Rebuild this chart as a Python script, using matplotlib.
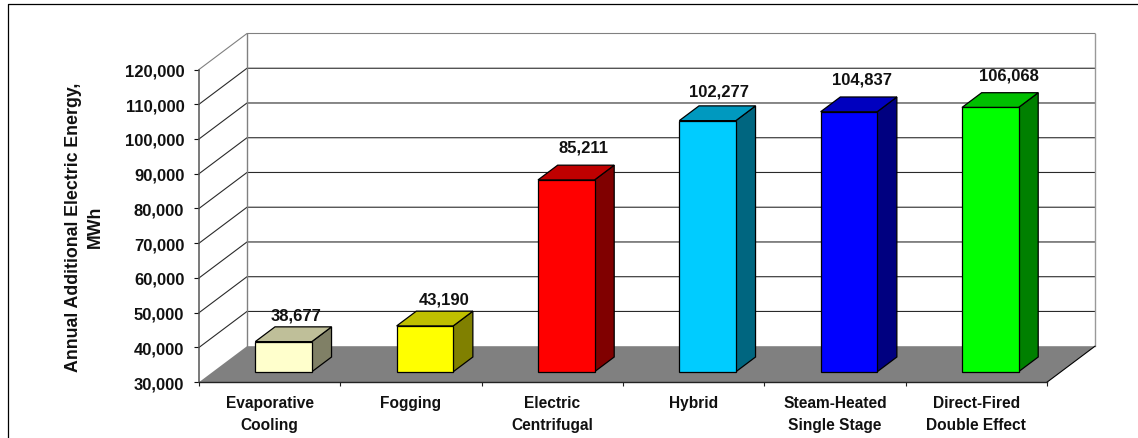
"""Annual additional electric energy by inlet cooling technology, drawn as a
pseudo-3D column chart with a back wall, side wall and floor."""

import matplotlib
matplotlib.use("Agg")
import matplotlib.pyplot as plt
from matplotlib.colors import to_rgb
from matplotlib.lines import Line2D
from matplotlib.patches import Polygon
from matplotlib.ticker import FuncFormatter

CATEGORIES = [
    "Evaporative\nCooling",
    "Fogging",
    "Electric\nCentrifugal",
    "Hybrid",
    "Steam-Heated\nSingle Stage",
    "Direct-Fired\nDouble Effect",
]
ENERGY_MWH = [38677, 43190, 85211, 102277, 104837, 106068]
BAR_COLORS = ["#FFFFCC", "#FFFF00", "#FF0000", "#00CCFF", "#0000FF", "#00FF00"]

Y_MIN, Y_MAX, Y_STEP = 30000, 120000, 10000

# value label nudges from the middle of each bar's rear top edge, in pixels
LABEL_DX = [-7, 0, -2, -8, -7, -1]
LABEL_DY = [12, 12, 18, 15, 18, 18]

W, H = 1138, 439
AX_LEFT, AX_RIGHT, AX_TOP, AX_BOTTOM = 199, 1047, 70.5, 383.2

# oblique projection: full depth moves 48 px right and 36 px up
PX_X = (AX_RIGHT - AX_LEFT) / len(CATEGORIES)
PX_Y = (AX_BOTTOM - AX_TOP) / (Y_MAX - Y_MIN)
DEPTH_X = 48 / PX_X
DEPTH_Y = 36 / PX_Y

BAR_WIDTH = 0.40
BAR_DEPTH_FRONT = 0.29
BAR_DEPTH_BACK = 0.70

plt.rcParams["font.family"] = ["Liberation Sans", "DejaVu Sans"]
plt.rcParams["font.weight"] = "bold"


def project(x, value, depth):
    return (x + depth * DEPTH_X, value + depth * DEPTH_Y)


def shade(color, factor):
    return tuple(c * factor for c in to_rgb(color))


def add_face(ax, corners, color, edge="black", lw=0.9, z=3):
    ax.add_patch(Polygon(corners, closed=True, facecolor=color, edgecolor=edge,
                         linewidth=lw, joinstyle="miter", clip_on=False, zorder=z))


def draw_walls(ax, n):
    for v in range(Y_MIN, Y_MAX + 1, Y_STEP):
        if v == Y_MIN:
            continue
        c = "#808080" if v == Y_MAX else "#2a2a2a"
        xs, ys = zip(project(0, v, 0), project(0, v, 1), project(n, v, 1))
        ax.plot(xs, ys, color=c, lw=0.8, clip_on=False, zorder=1)

    # wall outline, grey on the back corners
    xs, ys = zip(project(0, Y_MIN, 1), project(0, Y_MAX, 1))
    ax.plot(xs, ys, color="#808080", lw=1.0, clip_on=False, zorder=1.5)
    xs, ys = zip(project(n, Y_MIN, 1), project(n, Y_MAX, 1))
    ax.plot(xs, ys, color="#999999", lw=1.0, clip_on=False, zorder=1.5)

    floor = [project(0, Y_MIN, 0), project(n, Y_MIN, 0),
             project(n, Y_MIN, 1), project(0, Y_MIN, 1)]
    ax.add_patch(Polygon(floor, closed=True, facecolor="#808080", edgecolor="none",
                         clip_on=False, zorder=2))
    xs, ys = zip(project(n, Y_MIN, 0), project(n, Y_MIN, 1))
    ax.plot(xs, ys, color="black", lw=0.8, clip_on=False, zorder=2.1)


def draw_bar(ax, center, value, color):
    x0, x1 = center - BAR_WIDTH / 2, center + BAR_WIDTH / 2
    d0, d1 = BAR_DEPTH_FRONT, BAR_DEPTH_BACK
    front = [project(x0, Y_MIN, d0), project(x1, Y_MIN, d0),
             project(x1, value, d0), project(x0, value, d0)]
    side = [project(x1, Y_MIN, d0), project(x1, Y_MIN, d1),
            project(x1, value, d1), project(x1, value, d0)]
    top = [project(x0, value, d0), project(x1, value, d0),
           project(x1, value, d1), project(x0, value, d1)]
    add_face(ax, side, shade(color, 0.5))
    add_face(ax, top, shade(color, 0.75))
    add_face(ax, front, color, z=3.1)


def main():
    fig = plt.figure(figsize=(W / 100, H / 100), dpi=100, facecolor="white")
    ax = fig.add_axes([AX_LEFT / W, 1 - AX_BOTTOM / H,
                       (AX_RIGHT - AX_LEFT) / W, (AX_BOTTOM - AX_TOP) / H])
    ax.patch.set_visible(False)

    n = len(CATEGORIES)
    ax.set_xlim(0, n)
    ax.set_ylim(Y_MIN, Y_MAX)

    draw_walls(ax, n)

    for i, (value, color) in enumerate(zip(ENERGY_MWH, BAR_COLORS)):
        center = i + 0.5
        draw_bar(ax, center, value, color)
        lx, ly = project(center, value, BAR_DEPTH_BACK)
        ax.annotate(f"{value:,}", (lx, ly), xytext=(LABEL_DX[i], LABEL_DY[i]),
                    textcoords="offset pixels", ha="center", va="center",
                    fontsize=12, fontweight="bold", color="#111111",
                    annotation_clip=False, zorder=5)

    ax.set_yticks(range(Y_MIN, Y_MAX + 1, Y_STEP))
    ax.yaxis.set_major_formatter(FuncFormatter(lambda v, _: f"{int(v):,}"))
    ax.tick_params(axis="y", length=3.6, width=0.8, pad=7, labelsize=12,
                   colors="#111111")
    ax.set_xticks(range(n + 1))
    ax.set_xticklabels([])
    ax.tick_params(axis="x", which="major", length=3.2, width=0.8, color="#222222")
    ax.set_xticks([i + 0.5 for i in range(n)], minor=True)
    ax.set_xticklabels(CATEGORIES, minor=True, fontsize=11.2, fontweight="bold",
                       color="#111111", linespacing=1.6)
    ax.tick_params(axis="x", which="minor", length=0, pad=9)

    ax.set_ylabel("Annual Additional Electric Energy,\nMWh", fontsize=12.8,
                  fontweight="bold", color="#111111", labelpad=15, linespacing=1.4)

    for side in ("top", "right"):
        ax.spines[side].set_visible(False)
    ax.spines["left"].set_color("#555555")
    ax.spines["left"].set_linewidth(1.1)
    ax.spines["bottom"].set_color("#222222")
    ax.spines["bottom"].set_linewidth(1.0)
    for spine in ax.spines.values():
        spine.set_zorder(4)

    # chart area border, only the top and left edges show
    fig.add_artist(Line2D([7.5 / W, 7.5 / W, 1], [0, 1 - 5 / H, 1 - 5 / H],
                          color="black", lw=0.9))

    fig.savefig("out.png", dpi=100)
    plt.close(fig)


if __name__ == "__main__":
    main()
